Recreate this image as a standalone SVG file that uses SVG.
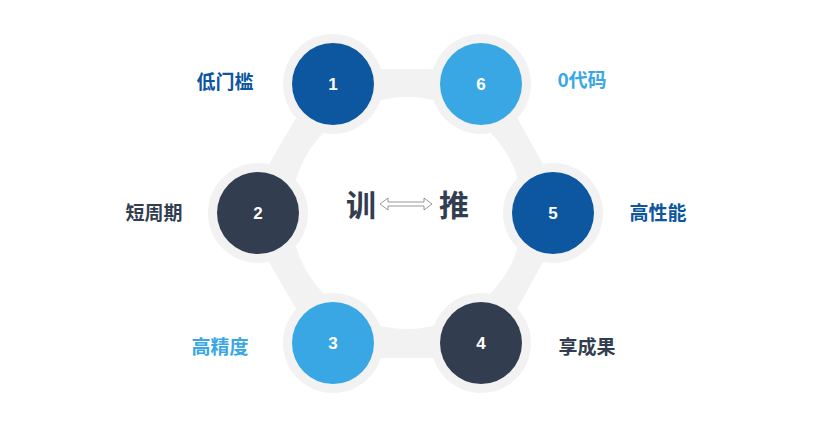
<svg xmlns="http://www.w3.org/2000/svg" width="825" height="436" viewBox="0 0 825 436">
<style>
.g{fill:#f2f2f2}
.n{font-family:"Liberation Sans",Arial,sans-serif;font-weight:bold;font-size:17px;fill:#fff;text-anchor:middle}
.l{font-family:"Noto Sans CJK SC",sans-serif;font-weight:bold;font-size:19px}
.c{font-family:"Noto Sans CJK SC",sans-serif;font-weight:bold;font-size:30px;fill:#323e50}
</style>
<rect width="825" height="436" fill="#fff"/>
<g id="ring">
<polygon points="333,84 481,84 553,213 481,343 333,343 258,213" fill="#f2f2f2" stroke="#f2f2f2" stroke-width="30" stroke-linejoin="round"/>
<circle cx="407" cy="213" r="116" fill="#fff"/>
<circle class="g" cx="333" cy="84" r="50"/><circle class="g" cx="481" cy="84" r="50"/>
<circle class="g" cx="258" cy="213" r="50"/><circle class="g" cx="553" cy="213" r="50"/>
<circle class="g" cx="333" cy="343" r="50"/><circle class="g" cx="481" cy="343" r="50"/>
</g>
<g id="node1"><circle cx="333" cy="84" r="41" fill="#0d56a0"/><text class="n" x="333" y="90">1</text><text class="l" x="225" y="89" fill="#0d56a0" text-anchor="middle">低门槛</text></g>
<g id="node6"><circle cx="481" cy="84" r="41" fill="#38a7e4"/><text class="n" x="481" y="90">6</text><text class="l" x="582" y="87" fill="#38a7e4" text-anchor="middle">0代码</text></g>
<g id="node2"><circle cx="258" cy="213" r="41" fill="#323e50"/><text class="n" x="258" y="219">2</text><text class="l" x="154" y="220" fill="#323e50" text-anchor="middle">短周期</text></g>
<g id="node5"><circle cx="553" cy="213" r="41" fill="#0d56a0"/><text class="n" x="553" y="219">5</text><text class="l" x="658" y="220" fill="#0d56a0" text-anchor="middle">高性能</text></g>
<g id="node3"><circle cx="333" cy="343" r="41" fill="#38a7e4"/><text class="n" x="333" y="349">3</text><text class="l" x="220" y="354" fill="#38a7e4" text-anchor="middle">高精度</text></g>
<g id="node4"><circle cx="481" cy="343" r="41" fill="#323e50"/><text class="n" x="481" y="349">4</text><text class="l" x="587" y="354" fill="#323e50" text-anchor="middle">享成果</text></g>
<g id="center"><text class="c" x="361" y="216" text-anchor="middle">训</text><text class="c" x="454" y="216" text-anchor="middle">推</text></g>
<g id="connectors"><polygon points="380,204 388,198 388,202 424,202 424,198 432,204 424,210 424,206 388,206 388,210" fill="#fff" stroke="#7f7f7f" stroke-width="0.8"/></g>
</svg>
